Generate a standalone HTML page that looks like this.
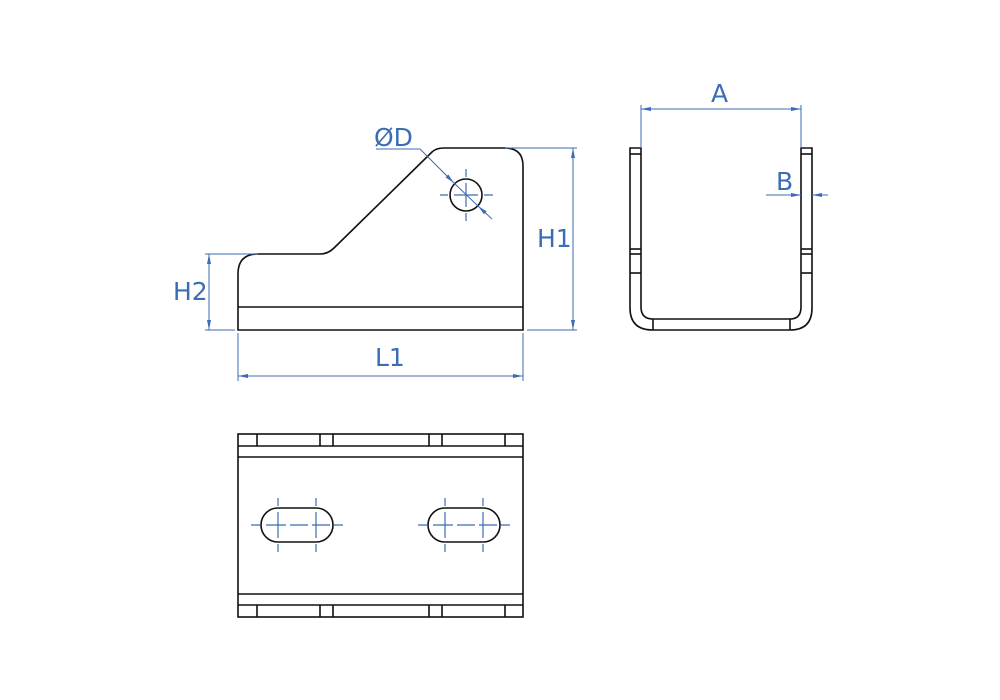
<!DOCTYPE html>
<html><head><style>
html,body{margin:0;padding:0;background:#fff;width:1000px;height:700px;overflow:hidden}
text{font-family:"DejaVu Sans","Liberation Sans",sans-serif;fill:#3a6db5}
</style></head><body>
<svg width="1000" height="700" viewBox="0 0 1000 700" xmlns="http://www.w3.org/2000/svg">
<defs>
<marker id="ar" viewBox="0 0 10 6" refX="10" refY="3" markerWidth="10" markerHeight="6" orient="auto-start-reverse" markerUnits="userSpaceOnUse"><path d="M0,1 L10,3 L0,5 z" fill="#3a6db5"/></marker>
</defs>
<g fill="none" stroke="#111" stroke-width="1.6">
<path d="M238,330 L238,274 Q238,254 258,254 L320,254 Q328,254 334,248 L432,152 Q436,148 444,148 L505,148 Q523,148 523,166 L523,330 Z"/>
<line x1="238" y1="307" x2="523" y2="307"/>
<circle cx="466" cy="195" r="16"/>
<path d="M630,148 L641,148 L641,307 Q641,319 653,319 L790,319 Q801,319 801,307 L801,148 L812,148 L812,308 Q812,330 790,330 L653,330 Q630,330 630,308 Z"/>
<line x1="630" y1="154" x2="641" y2="154"/><line x1="801" y1="154" x2="812" y2="154"/>
<line x1="630" y1="249" x2="641" y2="249"/><line x1="801" y1="249" x2="812" y2="249"/>
<line x1="630" y1="254" x2="641" y2="254"/><line x1="801" y1="254" x2="812" y2="254"/>
<line x1="630" y1="273" x2="641" y2="273"/><line x1="801" y1="273" x2="812" y2="273"/>
<line x1="653" y1="319" x2="653" y2="330"/><line x1="790" y1="319" x2="790" y2="330"/>
<rect x="238" y="434" width="285" height="183"/>
<line x1="238" y1="446" x2="523" y2="446"/><line x1="238" y1="457" x2="523" y2="457"/>
<line x1="238" y1="594" x2="523" y2="594"/><line x1="238" y1="605" x2="523" y2="605"/>
<path d="M257,434V446M320,434V446M333,434V446M429,434V446M442,434V446M505,434V446"/>
<path d="M257,605V617M320,605V617M333,605V617M429,605V617M442,605V617M505,605V617"/>
<path d="M278,508 L316,508 A17,17 0 0 1 316,542 L278,542 A17,17 0 0 1 278,508 Z"/>
<path d="M445,508 L483,508 A17,17 0 0 1 483,542 L445,542 A17,17 0 0 1 445,508 Z"/>
</g>
<g fill="none" stroke="#3a6db5" stroke-width="1.2">
<path d="M440,195h8M454,195h24M484,195h9M466,169v8M466,183v24M466,213v8"/>
<path d="M251,525h9M266,525h20M290,525h18M312,525h18M334,525h9"/>
<path d="M418,525h9M433,525h20M457,525h18M479,525h18M501,525h9"/>
<path d="M278,498v8M278,512v26M278,544v8M316,498v8M316,512v26M316,544v8"/>
<path d="M445,498v8M445,512v26M445,544v8M483,498v8M483,512v26M483,544v8"/>
</g>
<g fill="none" stroke="#3a6db5" stroke-width="1">
<line x1="205" y1="254" x2="258" y2="254"/><line x1="205" y1="330" x2="235" y2="330"/>
<line x1="209" y1="254" x2="209" y2="330" marker-start="url(#ar)" marker-end="url(#ar)"/>
<line x1="505" y1="148" x2="577" y2="148"/><line x1="527" y1="330" x2="577" y2="330"/>
<line x1="573" y1="148" x2="573" y2="330" marker-start="url(#ar)" marker-end="url(#ar)"/>
<line x1="238" y1="333" x2="238" y2="381"/><line x1="523" y1="333" x2="523" y2="381"/>
<line x1="238" y1="376" x2="523" y2="376" marker-start="url(#ar)" marker-end="url(#ar)"/>
<path d="M376,149 L420,149 L454,183" marker-end="url(#ar)"/>
<path d="M492,219 L478,206" marker-end="url(#ar)"/>
<line x1="454" y1="183" x2="478" y2="206"/>
<line x1="641" y1="105" x2="641" y2="148"/><line x1="801" y1="105" x2="801" y2="148"/>
<line x1="641" y1="109" x2="801" y2="109" marker-start="url(#ar)" marker-end="url(#ar)"/>
<line x1="766" y1="195" x2="801" y2="195" marker-end="url(#ar)"/>
<line x1="828" y1="195" x2="812" y2="195" marker-end="url(#ar)"/>
</g>
<g font-size="25">
<text x="173" y="300">H2</text>
<text x="537" y="247">H1</text>
<text x="375" y="366">L1</text>
<text x="374" y="146">ØD</text>
<text x="711" y="102">A</text>
<text x="776" y="190">B</text>
</g>
</svg>
</body></html>
